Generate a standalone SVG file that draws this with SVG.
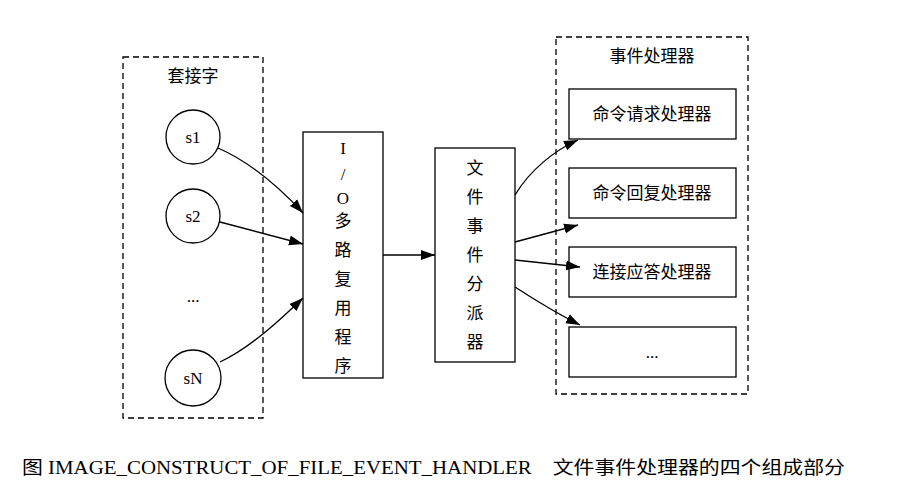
<svg xmlns="http://www.w3.org/2000/svg" width="920" height="483" viewBox="0 0 920 483">
<style>
text{font-family:"Liberation Serif","Noto Sans CJK SC",serif;font-size:17px;fill:#000;text-anchor:middle}
.n{fill:#fff;stroke:#000;stroke-width:1.3}
.c{fill:none;stroke:#000;stroke-width:1.3;stroke-dasharray:6 4}
.e{fill:none;stroke:#000;stroke-width:1.3;marker-end:url(#a)}
</style>
<defs><marker id="a" viewBox="0 0 14 12" refX="14" refY="6" markerWidth="14" markerHeight="12" markerUnits="userSpaceOnUse" orient="auto"><path d="M0,1 L14,6 L0,11z" fill="#000"/></marker></defs>
<rect width="920" height="483" fill="#fff"/>
<g id="cluster-sockets"><rect class="c" x="123" y="57" width="140" height="361"/><text x="193" y="82">套接字</text></g>
<g id="cluster-handlers"><rect class="c" x="556" y="37" width="192" height="357"/><text x="652" y="62">事件处理器</text></g>
<g id="s1"><circle class="n" cx="193" cy="137" r="27"/><text x="193" y="143">s1</text></g>
<g id="s2"><circle class="n" cx="193" cy="216" r="27"/><text x="193" y="222">s2</text></g>
<g id="dots"><text x="193" y="302">...</text></g>
<g id="sN"><circle class="n" cx="193" cy="378" r="28"/><text x="193" y="384">sN</text></g>
<g id="io"><rect class="n" x="303" y="132" width="80" height="246"/>
<text x="343" y="154">I</text><text x="343" y="180">/</text><text x="343" y="204">O</text><text x="343" y="227">多</text><text x="343" y="256">路</text><text x="343" y="285">复</text><text x="343" y="314">用</text><text x="343" y="343">程</text><text x="343" y="372">序</text></g>
<g id="dispatcher"><rect class="n" x="435" y="148" width="80" height="214"/>
<text x="475" y="174">文</text><text x="475" y="203">件</text><text x="475" y="232">事</text><text x="475" y="261">件</text><text x="475" y="290">分</text><text x="475" y="319">派</text><text x="475" y="348">器</text></g>
<g id="h1"><rect class="n" x="569" y="89" width="167" height="50"/><text x="652" y="120">命令请求处理器</text></g>
<g id="h2"><rect class="n" x="569" y="168" width="167" height="50"/><text x="652" y="199">命令回复处理器</text></g>
<g id="h3"><rect class="n" x="569" y="247" width="167" height="50"/><text x="652" y="278">连接应答处理器</text></g>
<g id="h4"><rect class="n" x="569" y="327" width="167" height="50"/><text x="652" y="358">...</text></g>
<g id="connectors">
<path class="e" d="M218,148 C250,162 280,188 303,213"/>
<path class="e" d="M220,222 L303,244"/>
<path class="e" d="M220,362 C250,348 280,320 303,298"/>
<path class="e" d="M383,255 L435,255"/>
<path class="e" d="M515,195 C530,170 555,150 578,140"/>
<path class="e" d="M515,242 L578,225"/>
<path class="e" d="M515,260 L580,267"/>
<path class="e" d="M515,287 C535,300 560,315 580,325"/>
</g>
<text x="22" y="474" style="font-size:18px;text-anchor:start" textLength="823" lengthAdjust="spacingAndGlyphs">图 IMAGE_CONSTRUCT_OF_FILE_EVENT_HANDLER　文件事件处理器的四个组成部分</text>
</svg>
